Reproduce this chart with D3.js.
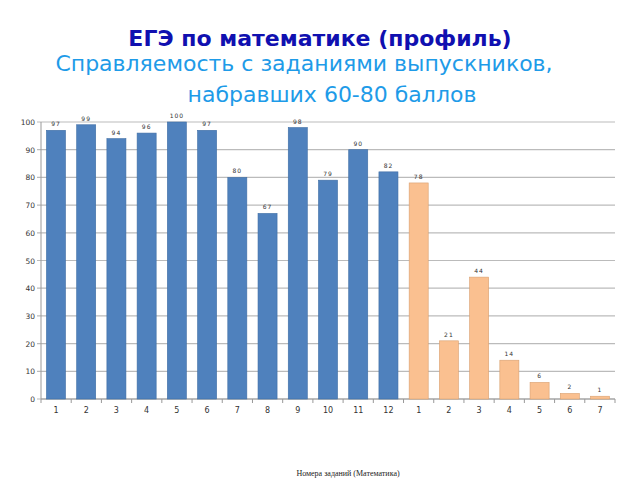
<!DOCTYPE html>
<html><head><meta charset="utf-8">
<script src="https://cdn.jsdelivr.net/npm/d3@7"></script>
<style>body{margin:0;background:#fff}</style>
</head><body>
<svg id="c" width="640" height="480"></svg>
<script>
const labels = ['1','2','3','4','5','6','7','8','9','10','11','12','1','2','3','4','5','6','7'];
const values = [97,99,94,96,100,97,80,67,98,79,90,82,78,21,44,14,6,2,1];
const groups = ['b','b','b','b','b','b','b','b','b','b','b','b','o','o','o','o','o','o','o'];
const yTicks = [0,10,20,30,40,50,60,70,80,90,100];

const svg = d3.select('#c');
const mLeft = 41, mRight = 615, mTop = 122, mBottom = 399;
const x = d3.scaleBand().domain(d3.range(labels.length)).range([mLeft, mRight]).paddingInner(0.37).paddingOuter(0.18);
const y = d3.scaleLinear().domain([0, 100]).range([mBottom, mTop]);

svg.append('text').attr('x', 320).attr('y', 46).attr('text-anchor', 'middle')
  .attr('font-family', 'DejaVu Sans').attr('font-weight', 'bold').attr('font-size', 22).attr('fill', '#1010b0')
  .text('ЕГЭ по математике (профиль)');
svg.append('text').attr('x', 304).attr('y', 71).attr('text-anchor', 'middle')
  .attr('font-family', 'DejaVu Sans').attr('font-size', 22).attr('fill', '#1e9be8')
  .text('Справляемость с заданиями выпускников,');
svg.append('text').attr('x', 332).attr('y', 102).attr('text-anchor', 'middle')
  .attr('font-family', 'DejaVu Sans').attr('font-size', 22).attr('fill', '#1e9be8')
  .text('набравших 60-80 баллов');

svg.append('g').selectAll('line').data(yTicks).join('line')
  .attr('x1', mLeft - 4).attr('x2', mRight).attr('y1', d => y(d)).attr('y2', d => y(d))
  .attr('stroke', '#bbb').attr('stroke-width', 1.2);
svg.append('g').selectAll('text').data(yTicks).join('text')
  .attr('x', mLeft - 6).attr('y', d => y(d) + 3).attr('text-anchor', 'end')
  .attr('font-family', 'DejaVu Sans').attr('font-size', 7.5).attr('fill', '#333').text(d => d);

svg.append('line').attr('x1', mLeft).attr('x2', mLeft).attr('y1', mTop).attr('y2', mBottom).attr('stroke', '#999');
svg.append('line').attr('x1', mLeft).attr('x2', mRight).attr('y1', mBottom).attr('y2', mBottom).attr('stroke', '#999');
const step = x.step();
const x0 = x(0) - x.paddingOuter() * step - x.paddingInner() * step / 2 + x.paddingInner() * step / 2;
svg.append('g').selectAll('line').data(d3.range(labels.length + 1)).join('line')
  .attr('x1', i => mLeft + i * (mRight - mLeft) / labels.length)
  .attr('x2', i => mLeft + i * (mRight - mLeft) / labels.length)
  .attr('y1', mBottom).attr('y2', mBottom + 4).attr('stroke', '#999');

svg.append('g').selectAll('rect').data(values).join('rect')
  .attr('x', (d, i) => x(i)).attr('width', x.bandwidth())
  .attr('y', d => y(d)).attr('height', d => mBottom - y(d))
  .attr('fill', (d, i) => groups[i] === 'b' ? '#4f81bd' : '#fac090')
  .attr('stroke', (d, i) => groups[i] === 'b' ? '#3f6ea5' : '#d9a070').attr('stroke-width', 0.6);

svg.append('g').selectAll('text').data(values).join('text')
  .attr('x', (d, i) => x(i) + x.bandwidth() / 2).attr('y', d => y(d) - 4).attr('text-anchor', 'middle')
  .attr('font-family', 'DejaVu Sans').attr('font-size', 6).attr('fill', '#333').attr('letter-spacing', 1)
  .text(d => d);

svg.append('g').selectAll('text').data(labels).join('text')
  .attr('x', (d, i) => x(i) + x.bandwidth() / 2).attr('y', mBottom + 14).attr('text-anchor', 'middle')
  .attr('font-family', 'DejaVu Sans').attr('font-size', 8).attr('fill', '#333').text(d => d);

svg.append('text').attr('x', 348).attr('y', 476).attr('text-anchor', 'middle')
  .attr('font-family', 'Liberation Serif').attr('font-size', 8).attr('fill', '#222')
  .text('Номера заданий (Математика)');
</script>
</body></html>
